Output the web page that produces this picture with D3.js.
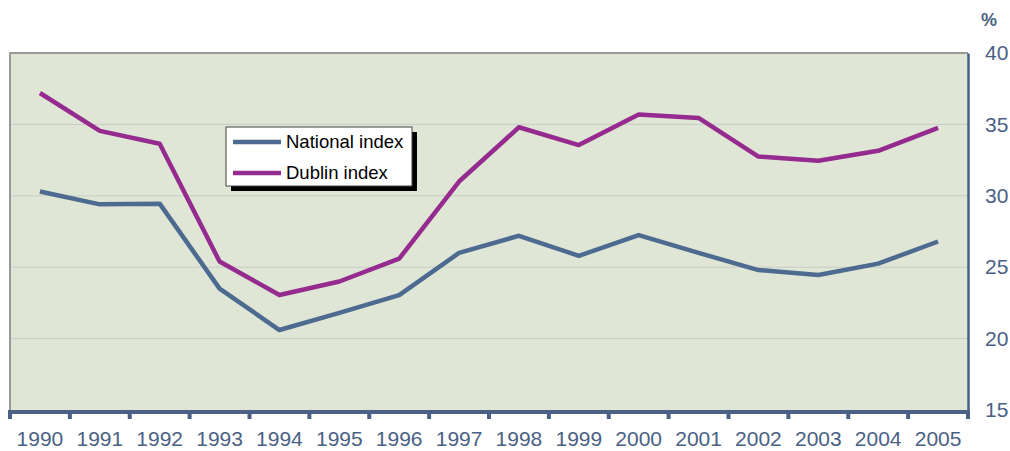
<!DOCTYPE html>
<meta charset="utf-8">
<head>
<style>
  body { margin: 0; background: #fff; }
  svg text { font-family: "Liberation Sans", Arial, sans-serif; }
</style>
</head>
<body>
<script src="https://cdn.jsdelivr.net/npm/d3@7/dist/d3.min.js"></script>
<script>
 const years = ["1990","1991","1992","1993","1994","1995","1996","1997","1998","1999","2000","2001","2002","2003","2004","2005"];
 const nationalIndex = [30.3, 29.4, 29.45, 23.5, 20.6, 21.8, 23.05, 26.0, 27.2, 25.8, 27.25, 26.0, 24.8, 24.45, 25.25, 26.8];
 const dublinIndex = [37.2, 34.55, 33.65, 25.4, 23.05, 24.0, 25.6, 31.0, 34.8, 33.55, 35.7, 35.45, 32.75, 32.45, 33.15, 34.75];
 const yTicks = [15, 20, 25, 30, 35, 40];
 const seriesNames = ["National index", "Dublin index"];
 const seriesColors = ["#4d6a90", "#952a8f"];

 const width = 1010, height = 451;
 const plotLeft = 10, plotRight = 968, plotTop = 53, plotBottom = 410;

 const svg = d3.select("body").append("svg")
     .attr("width", width)
     .attr("height", height);

 const x = d3.scaleBand().domain(years).range([plotLeft, plotRight]);
 const y = d3.scaleLinear().domain([15, 40]).range([plotBottom, plotTop]);

 // plot background
 svg.append("rect")
    .attr("x", plotLeft).attr("y", plotTop)
    .attr("width", plotRight - plotLeft).attr("height", plotBottom - plotTop)
    .attr("fill", "#dfe6d6");

 // gridlines
 svg.append("g")
    .selectAll("line")
    .data(yTicks.filter(d => d > 15 && d < 40))
    .join("line")
    .attr("x1", plotLeft).attr("x2", plotRight)
    .attr("y1", d => y(d)).attr("y2", d => y(d))
    .attr("stroke", "#c8cbc4").attr("stroke-width", 1);

 // left and top frame
 svg.append("path")
    .attr("d", `M${plotLeft},${plotBottom}V${plotTop}H${plotRight}`)
    .attr("fill", "none").attr("stroke", "#9a9a9a").attr("stroke-width", 2);

 // right axis
 const yAxis = svg.append("g")
    .attr("transform", `translate(${plotRight},0)`)
    .call(d3.axisRight(y).tickValues(yTicks).tickSize(0).tickPadding(17));
 yAxis.select(".domain").attr("stroke", "#4a6185").attr("stroke-width", 2.5);
 yAxis.selectAll("text").attr("fill", "#4a6185").attr("font-size", 21)
    .attr("font-family", "Liberation Sans, Arial, sans-serif");

 svg.append("text")
    .attr("x", 989).attr("y", 26)
    .attr("text-anchor", "middle")
    .attr("fill", "#4a6185")
    .attr("font-size", 18).attr("font-weight", "bold")
    .text("%");

 // bottom axis
 const xAxis = svg.append("g")
    .attr("transform", `translate(0,${plotBottom})`)
    .call(d3.axisBottom(x).tickSize(0).tickPadding(21));
 xAxis.select(".domain").remove();
 xAxis.selectAll("text").attr("fill", "#4a6185").attr("font-size", 21)
    .attr("font-family", "Liberation Sans, Arial, sans-serif");

 svg.append("line")
    .attr("x1", plotLeft - 2).attr("x2", plotRight + 2)
    .attr("y1", plotBottom + 2).attr("y2", plotBottom + 2)
    .attr("stroke", "#4a6185").attr("stroke-width", 4);

 const bounds = years.map(d => x(d)).concat([plotRight]);
 svg.append("g")
    .selectAll("rect")
    .data(bounds)
    .join("rect")
    .attr("x", d => d - 2).attr("y", plotBottom)
    .attr("width", 4).attr("height", 9)
    .attr("fill", "#4a6185");

 // lines
 const line = d3.line()
    .x((d, i) => x(years[i]) + x.bandwidth() / 2)
    .y(d => y(d));

 [nationalIndex, dublinIndex].forEach((s, i) => {
     svg.append("path")
        .datum(s)
        .attr("d", line)
        .attr("fill", "none")
        .attr("stroke", seriesColors[i])
        .attr("stroke-width", 4.5)
        .attr("stroke-linejoin", "round");
 });

 // legend
 const lg = svg.append("g").attr("transform", "translate(226,127)");
 lg.append("rect").attr("x", 5).attr("y", 5).attr("width", 186).attr("height", 59).attr("fill", "#000");
 lg.append("rect").attr("x", 0).attr("y", 0).attr("width", 186).attr("height", 59)
   .attr("fill", "#fff").attr("stroke", "#444").attr("stroke-width", 1);
 seriesNames.forEach((n, i) => {
     const yy = 15 + i * 31;
     lg.append("line")
       .attr("x1", 7).attr("x2", 55)
       .attr("y1", yy).attr("y2", yy)
       .attr("stroke", seriesColors[i]).attr("stroke-width", 4.5);
     lg.append("text")
       .attr("x", 60).attr("y", yy + 6)
       .attr("font-size", 18.5).attr("fill", "#000")
       .text(n);
 });
</script>
</body>
